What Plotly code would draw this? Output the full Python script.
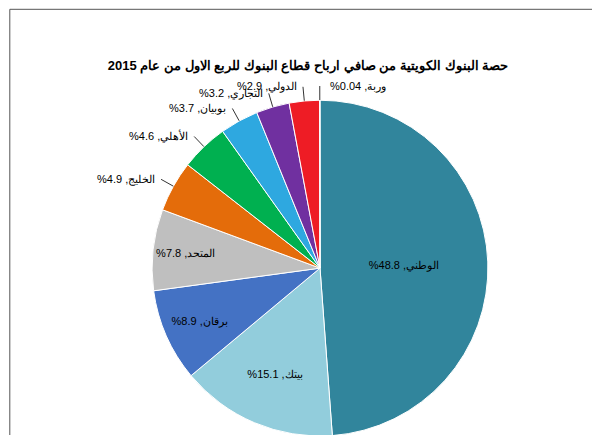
import math
import plotly.graph_objects as go

labels = ["الوطني", "بيتك", "برقان", "المتحد", "الخليج", "الأهلي", "بوبيان", "التجاري", "الدولي", "وربة"]
values = [48.8, 15.1, 8.9, 7.8, 4.9, 4.6, 3.7, 3.2, 2.9, 0.04]
value_text = ["48.8", "15.1", "8.9", "7.8", "4.9", "4.6", "3.7", "3.2", "2.9", "0.04"]
colors = ["#31859C", "#92CDDC", "#4472C4", "#BFBFBF", "#E46C0A", "#00B050", "#2EA8E0", "#7030A0", "#EE1C25", "#4F81BD"]
n_inside = 4

W, H = 600, 435
texts = ["\u202B" + f"{l}, {v}%" + "\u202C" for l, v in zip(labels, value_text)]
font = dict(family="Arial, Liberation Sans", size=11, color="black")

fig = go.Figure(go.Pie(
    labels=labels, values=values,
    text=[t if i < n_inside else "" for i, t in enumerate(texts)], textinfo="text",
    textposition=["inside" if i < n_inside else "none" for i in range(len(labels))],
    sort=False, direction="clockwise", rotation=0,
    marker=dict(colors=colors, line=dict(color="white", width=1)),
    textfont=font, insidetextorientation="horizontal", showlegend=False,
    domain=dict(x=[0.24, 0.80], y=[0.016, 0.788]),
))

cx, cy, r = 312, 260, 168
total = sum(values)
annotations, shapes = [], []
cum = 0
for i, v in enumerate(values):
    mid = (cum + v / 2) / total * 2 * math.pi
    cum += v
    if i < n_inside:
        continue
    s, c = math.sin(mid), math.cos(mid)
    x0, y0 = cx + r * s, cy - r * c
    x1, y1 = cx + (r + 14) * s, cy - (r + 14) * c
    right = s >= -0.01
    shapes.append(dict(type="line", xref="paper", yref="paper",
                       x0=x0 / W, y0=1 - y0 / H, x1=x1 / W, y1=1 - y1 / H,
                       line=dict(color="#333", width=1)))
    lx = x1 + (8 if right else -4)
    annotations.append(dict(x=lx / W, y=1 - y1 / H, xref="paper", yref="paper",
                            text=texts[i], showarrow=False, font=font,
                            xanchor="left" if right else "right", yanchor="middle"))

shapes.append(dict(type="rect", xref="paper", yref="paper", x0=0.003, y0=0.003, x1=0.997, y1=0.997,
                   line=dict(color="#555", width=1)))

fig.update_layout(
    width=W, height=H, margin=dict(l=0, r=0, t=0, b=0), paper_bgcolor="white",
    title=dict(text="<b>حصة البنوك الكويتية من صافي ارباح قطاع البنوك للربع الاول من عام 2015</b>",
               x=0.5, y=0.867, xanchor="center", yanchor="middle",
               font=dict(family="Arial, Liberation Sans", size=13, color="black")),
    shapes=shapes, annotations=annotations,
)
fig.write_html("out.html")
